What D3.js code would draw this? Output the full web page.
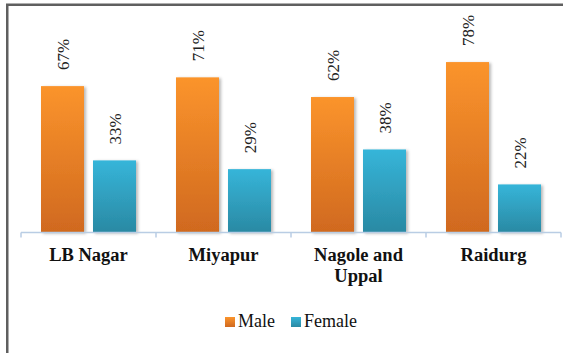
<!DOCTYPE html>
<html><head><meta charset="utf-8"><script src="https://cdn.jsdelivr.net/npm/d3@7"></script></head>
<body style="margin:0;background:#fff">
<script>
// Share of male and female respondents by locality
const categories = ["LB Nagar", "Miyapur", "Nagole and Uppal", "Raidurg"];
const seriesNames = ["Male", "Female"];
const maleValues = [67, 71, 62, 78];
const femaleValues = [33, 29, 38, 22];

const FONT = '"Liberation Serif", monospace';
const W = 563, H = 353;
const svg = d3.select("body").append("svg")
  .attr("width", W).attr("height", H)
  .style("display", "block")
  .style("font-family", FONT);

const defs = svg.append("defs");
const grads = {
  Male:   ["#fb942c", "#d0691f"],
  Female: ["#36b5d9", "#2a89a3"]
};
seriesNames.forEach(s => {
  const g = defs.append("linearGradient")
    .attr("id", "grad-" + s).attr("x1", 0).attr("y1", 0).attr("x2", 0).attr("y2", 1);
  g.append("stop").attr("offset", "0%").attr("stop-color", grads[s][0]);
  g.append("stop").attr("offset", "100%").attr("stop-color", grads[s][1]);
});
const shadow = defs.append("filter").attr("id", "barShadow")
  .attr("x", "-20%").attr("y", "-10%").attr("width", "150%").attr("height", "130%");
shadow.append("feDropShadow")
  .attr("dx", 2).attr("dy", 1).attr("stdDeviation", 1.6)
  .attr("flood-color", "#000").attr("flood-opacity", 0.28);

// Outer frame
svg.append("rect")
  .attr("x", 7.25).attr("y", 4.75).attr("width", 700).attr("height", 500)
  .attr("fill", "none").attr("stroke", "#5f5f5f").attr("stroke-width", 2.5);

const rows = categories.map((c, i) => ({
  category: c,
  values: [
    { series: "Male", value: maleValues[i] },
    { series: "Female", value: femaleValues[i] }
  ]
}));

const x0 = d3.scaleBand().domain(categories).range([21, 561]).padding(0);
const x1 = d3.scaleBand().domain(seriesNames).range([0, x0.bandwidth()])
  .paddingInner(9 / 52).paddingOuter(20 / 52);
const y = d3.scaleLinear().domain([0, 100]).range([232.5, 14]);

// Bars
const groups = svg.append("g").selectAll("g").data(rows).join("g")
  .attr("transform", d => `translate(${x0(d.category)},0)`);

groups.selectAll("rect").data(d => d.values).join("rect")
  .attr("x", d => x1(d.series))
  .attr("y", d => y(d.value))
  .attr("width", x1.bandwidth())
  .attr("height", d => y(0) - y(d.value))
  .attr("fill", d => `url(#grad-${d.series})`)
  .attr("filter", "url(#barShadow)");

// Value labels, rotated
groups.selectAll("text.val").data(d => d.values).join("text")
  .attr("class", "val")
  .attr("transform", d => `translate(${x1(d.series) + x1.bandwidth() / 2 + 6},${y(d.value) - 16}) rotate(-90)`)
  .attr("text-anchor", "start")
  .style("font-family", FONT)
  .attr("font-size", 17)
  .attr("fill", "#222")
  .text(d => d.value + "%");

// Category axis
const axis = svg.append("g").attr("transform", `translate(0,${y(0)})`);
axis.append("line")
  .attr("x1", x0.range()[0]).attr("x2", x0.range()[1])
  .attr("stroke", "#b9cde4").attr("stroke-width", 1.5);
const bounds = categories.map(c => x0(c)).concat([x0.range()[1]]);
axis.selectAll("line.tick").data(bounds).join("line")
  .attr("class", "tick")
  .attr("x1", d => d).attr("x2", d => d)
  .attr("y1", 0).attr("y2", 5)
  .attr("stroke", "#b9cde4").attr("stroke-width", 1.5);

// Category labels (wrap long names into two lines)
const catLabels = svg.append("g").selectAll("text").data(categories).join("text")
  .attr("x", d => x0(d) + x0.bandwidth() / 2)
  .attr("y", 261)
  .attr("text-anchor", "middle")
  .style("font-family", FONT)
  .attr("font-weight", "bold")
  .attr("font-size", 18.5)
  .attr("fill", "#111");
catLabels.each(function(d) {
  const t = d3.select(this);
  const lines = d === "Nagole and Uppal" ? ["Nagole and", "Uppal"] : [d];
  lines.forEach((ln, i) => {
    t.append("tspan")
      .attr("x", x0(d) + x0.bandwidth() / 2)
      .attr("dy", i === 0 ? 0 : 21)
      .style("font-family", FONT)
      .text(ln);
  });
});

// Legend
const legendX = [225, 291];
const legend = svg.append("g").selectAll("g").data(seriesNames).join("g")
  .attr("transform", (d, i) => `translate(${legendX[i]},317)`);
legend.append("rect")
  .attr("width", 10).attr("height", 10)
  .attr("fill", d => `url(#grad-${d})`);
legend.append("text")
  .attr("x", 13).attr("y", 10)
  .style("font-family", FONT)
  .attr("font-size", 18)
  .attr("fill", "#111")
  .text(d => d);
</script>
</body>
</html>
